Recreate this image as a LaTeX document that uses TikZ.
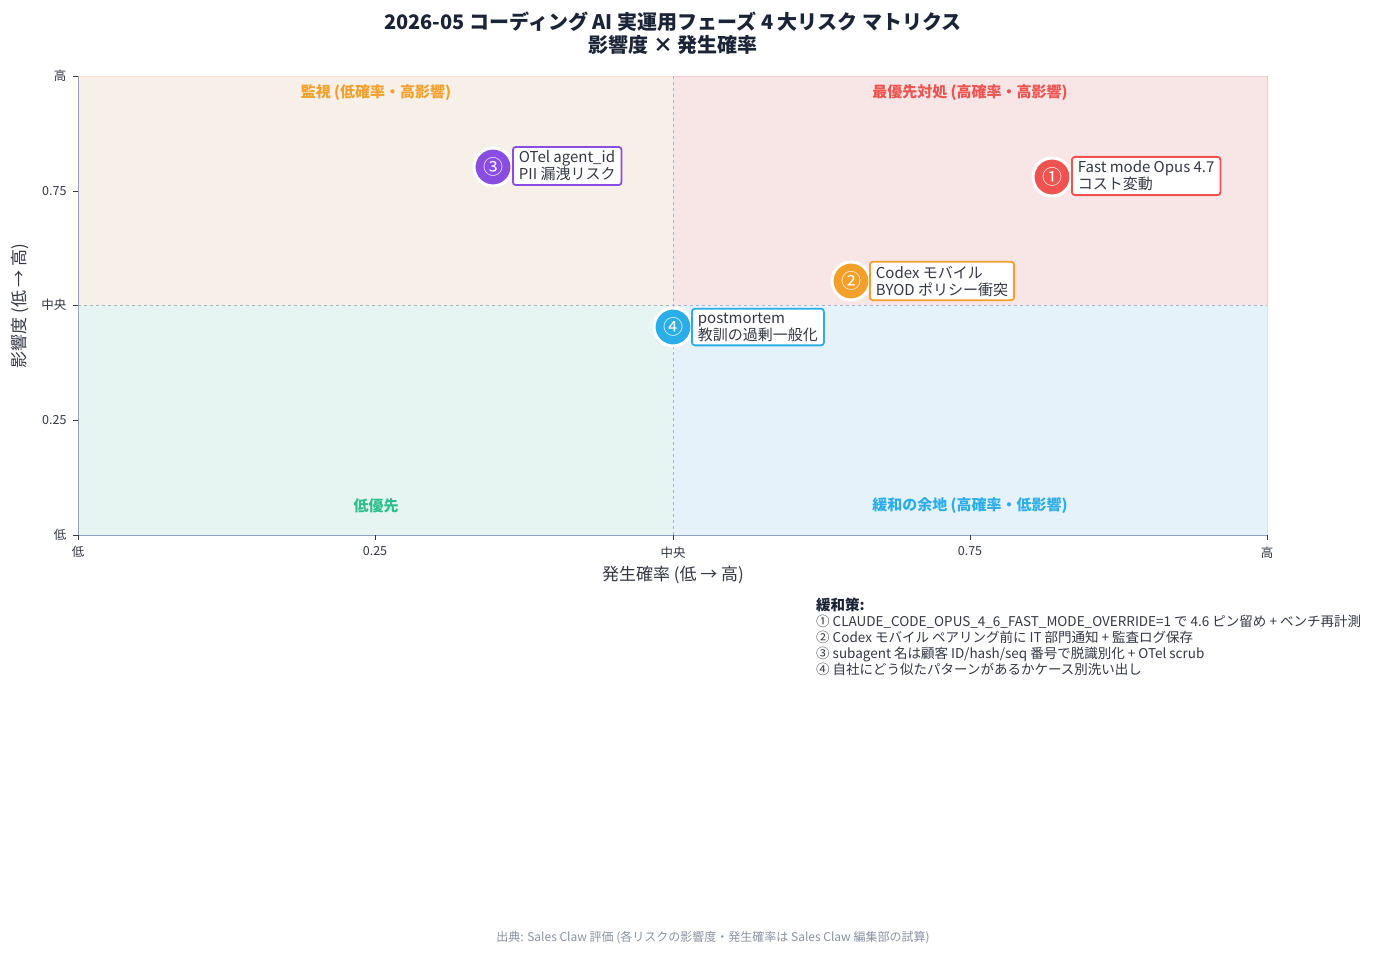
\documentclass[tikz,border=0pt]{standalone}
\usepackage{fontspec}
\setmainfont{Noto Sans CJK JP}
\definecolor{cred}{HTML}{EF5350}
\definecolor{corange}{HTML}{F2A02A}
\definecolor{cpurple}{HTML}{8A4DE3}
\definecolor{cblue}{HTML}{2BAEE8}
\definecolor{cgreen}{HTML}{2DBE8C}
\definecolor{ctext}{HTML}{333844}
\definecolor{ctitle}{HTML}{1B2336}
\definecolor{caxis}{HTML}{8FA3C0}
\definecolor{qa}{HTML}{F6F0E9}
\definecolor{qb}{HTML}{F8E6E7}
\definecolor{qc}{HTML}{E6F5F1}
\definecolor{qd}{HTML}{E6F2FA}
\definecolor{ea}{HTML}{FBE3CF}
\definecolor{eb}{HTML}{F5CDD0}
\definecolor{ec}{HTML}{CFE6F3}
\definecolor{cdash}{HTML}{A9B2BE}
\definecolor{csrc}{HTML}{8A93A3}
\tikzset{
 mk/.style={circle,minimum size=38pt,inner sep=0pt,draw=white,line width=3pt,text=white,font=\fontsize{20}{20}\selectfont},
 lb/.style={draw,line width=1.8pt,rounded corners=3pt,fill=white,align=left,inner xsep=6pt,inner ysep=4pt,font=\fontsize{15}{17}\selectfont,text=ctext},
 qt/.style={font=\bfseries\fontsize{15}{15}\selectfont},
 tk/.style={font=\fontsize{12.5}{12.5}\selectfont,text=ctext},
}
\begin{document}
\begin{tikzpicture}[x=1pt,y=-1pt]
\useasboundingbox (0,0) rectangle (1396,956);
\fill[white] (0,0) rectangle (1396,956);
% quadrants
\fill[qa] (78,76) rectangle (673,305);
\fill[qb] (673,76) rectangle (1267,305);
\fill[qc] (78,305) rectangle (673,535);
\fill[qd] (673,305) rectangle (1267,535);
\draw[ea] (78,76) -- (673,76);
\draw[eb] (673,76) -- (1267,76) -- (1267,305);
\draw[ec] (1267,305) -- (1267,535);
\draw[cdash,dashed,line width=1pt] (673,76) -- (673,535);
\draw[cdash,dashed,line width=1pt] (78,305) -- (1267,305);
\draw[caxis,line width=1pt] (78,76) -- (78,535) -- (1267,535);
% ticks
\foreach \x/\t in {78/低,375/0.25,673/中央,970/0.75,1267/高}{
 \draw[ctext] (\x,535) -- (\x,540);
 \node[tk,anchor=north] at (\x,543) {\t};}
\foreach \y/\t in {76/高,191/0.75,305/中央,420/0.25,535/低}{
 \draw[ctext] (78,\y) -- (73,\y);
 \node[tk,anchor=east] at (70,\y) {\t};}
\node[font=\fontsize{17}{17}\selectfont,text=ctext] (xl) at (673,575) {発生確率 (低 → 高)};
\node[font=\fontsize{17}{17}\selectfont,text=ctext,rotate=90] (yl) at (20,306) {影響度 (低 → 高)};
% title
\node[font=\bfseries\fontsize{20}{23}\selectfont,text=ctitle,align=center] (title) at (673,33) {2026-05 コーディング AI 実運用フェーズ 4 大リスク マトリクス\\影響度 × 発生確率};
% quadrant titles
\node[qt,text=corange] (q1) at (376,93) {監視 (低確率・高影響)};
\node[qt,text=cred] (q2) at (970,93) {最優先対処 (高確率・高影響)};
\node[qt,text=cgreen] (q3) at (376,506) {低優先};
\node[qt,text=cblue] (q4) at (970,506) {緩和の余地 (高確率・低影響)};
% markers
\node[mk,fill=cred] (m1) at (1052,177) {①};
\node[mk,fill=corange] (m2) at (851,281) {②};
\node[mk,fill=cpurple] (m3) at (493,167) {③};
\node[mk,fill=cblue] (m4) at (673,327) {④};
\node[lb,draw=cred,anchor=west] (l1) at (1071,176) {Fast mode Opus 4.7\\コスト変動};
\node[lb,draw=corange,anchor=west] (l2) at (869,281) {Codex モバイル\\BYOD ポリシー衝突};
\node[lb,draw=cpurple,anchor=west] (l3) at (512,166) {OTel agent\_id\\PII 漏洩リスク};
\node[lb,draw=cblue,anchor=west] (l4) at (691,327) {postmortem\\教訓の過剰一般化};
% mitigation
\node[anchor=north west,align=left,text=ctext,font=\fontsize{13.5}{16}\selectfont,inner sep=0pt] (mit) at (816,598)
{{\bfseries\fontsize{14.5}{16}\selectfont\color{ctitle}緩和策:}\\
① CLAUDE\_CODE\_OPUS\_4\_6\_FAST\_MODE\_OVERRIDE=1 で 4.6 ピン留め + ベンチ再計測\\
② Codex モバイル ペアリング前に IT 部門通知 + 監査ログ保存\\
③ subagent 名は顧客 ID/hash/seq 番号で脱識別化 + OTel scrub\\
④ 自社にどう似たパターンがあるかケース別洗い出し};
\node[font=\fontsize{12}{12}\selectfont,text=csrc] (src) at (713,938) {出典: Sales Claw 評価 (各リスクの影響度・発生確率は Sales Claw 編集部の試算)};
\end{tikzpicture}
\end{document}
